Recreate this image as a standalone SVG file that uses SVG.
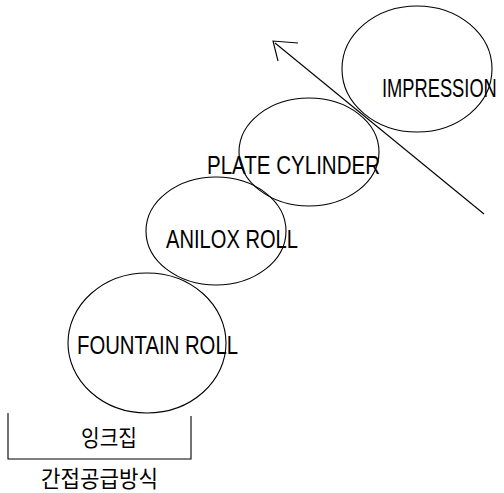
<svg xmlns="http://www.w3.org/2000/svg" width="504" height="493" viewBox="0 0 504 493">
  <defs>
    <style>
      .roll { fill: none; stroke: #000; stroke-width: 1.1; }
      .lbl { font-family: "Liberation Sans", Arial, sans-serif; font-size: 25px; fill: #000; }
      .kr { font-family: "Noto Sans CJK KR", sans-serif; font-size: 23px; fill: #000; }
      .ln { fill: none; stroke: #000; stroke-width: 1.1; }
    </style>
  </defs>
  <rect width="504" height="493" fill="#fff"/>

  <g id="impression">
    <ellipse class="roll" cx="417" cy="69" rx="75" ry="63"/>
    <text class="lbl" transform="translate(382,97) scale(0.732,1)" x="0" y="0">IMPRESSION</text>
  </g>

  <g id="plate-cylinder">
    <ellipse class="roll" cx="309" cy="152" rx="70" ry="54"/>
    <text class="lbl" x="207" y="174" textLength="173" lengthAdjust="spacingAndGlyphs">PLATE CYLINDER</text>
  </g>

  <g id="anilox-roll">
    <ellipse class="roll" cx="216" cy="231" rx="70" ry="54"/>
    <text class="lbl" x="166" y="248" textLength="132" lengthAdjust="spacingAndGlyphs">ANILOX ROLL</text>
  </g>

  <g id="fountain-roll">
    <ellipse class="roll" cx="147" cy="343" rx="79" ry="70"/>
    <text class="lbl" x="77" y="354" textLength="161" lengthAdjust="spacingAndGlyphs">FOUNTAIN ROLL</text>
  </g>

  <g id="ink-tray">
    <path class="ln" d="M8,413 V459 H191 V416"/>
    <text class="kr" x="81" y="446" textLength="56" lengthAdjust="spacingAndGlyphs">잉크집</text>
    <text class="kr" x="41" y="487" textLength="117" lengthAdjust="spacingAndGlyphs">간접공급방식</text>
  </g>

  <g id="connectors">
    <line class="ln" x1="484" y1="214" x2="275" y2="43"/>
    <path class="ln" d="M298,43 L273,41 L278,61"/>
  </g>
</svg>
